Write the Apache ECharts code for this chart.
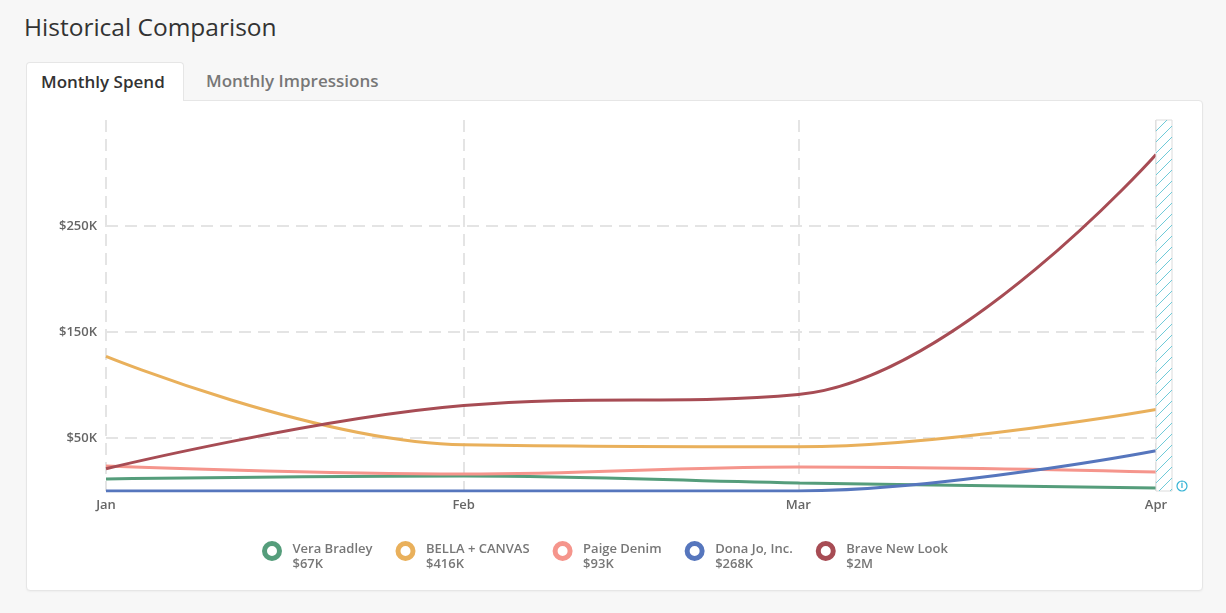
<!DOCTYPE html>
<html>
<head>
<meta charset="utf-8">
<script src="https://cdn.jsdelivr.net/npm/echarts@6/dist/echarts.min.js"></script>
<style>
  html, body { margin: 0; padding: 0; }
  body {
    width: 1226px; height: 613px; overflow: hidden; position: relative;
    background: #f7f7f7; font-family: 'Open Sans', sans-serif;
  }
  #title { position: absolute; left: 24px; top: 10px; font-size: 24.5px; color: #333; }
  .card {
    position: absolute; left: 26px; top: 100px; width: 1175px; height: 489px;
    background: #fff; border: 1px solid #e6e6e6; border-radius: 0 4px 4px 4px;
    box-shadow: 0 1px 2px rgba(0, 0, 0, 0.04);
  }
  .tab {
    position: absolute; top: 62px; height: 39px; line-height: 38px;
    font-size: 17px; font-weight: 600; box-sizing: border-box;
  }
  .tab.active {
    left: 26px; width: 158px; padding-left: 14px; background: #fff; color: #333;
    border: 1px solid #e6e6e6; border-bottom: none; border-radius: 4px 4px 0 0; z-index: 2;
  }
  .tab.other { left: 206px; color: #777; }
  #chart { position: absolute; left: 0; top: 0; width: 1226px; height: 613px; z-index: 3; }
</style>
</head>
<body>
<div id="title">Historical Comparison</div>
<div class="card"></div>
<div class="tab active">Monthly Spend</div>
<div class="tab other">Monthly Impressions</div>
<div id="chart"></div>
<script>
const months = ['2020-01-01', '2020-02-01', '2020-03-01', '2020-04-01']
const monthLabels = ['Jan', 'Feb', 'Mar', 'Apr']
const yTicks = [50000, 150000, 250000]
const brands = ['Vera Bradley', 'BELLA + CANVAS', 'Paige Denim', 'Dona Jo, Inc.', 'Brave New Look']
const totals = ['$67K', '$416K', '$93K', '$268K', '$2M']
const colors = ['#559d7b', '#e9b05b', '#f5958c', '#5676bd', '#a74c54']

const veraBradley = [11400, 14200, 7600, 2800]
const bellaCanvas = [127000, 43600, 41700, 76800]
const paigeDenim = [23700, 16000, 22700, 18000]
const donaJo = [0, 0, 0, 38000]
const braveNewLook = [21000, 80600, 91000, 317500]
const seriesValues = [veraBradley, bellaCanvas, paigeDenim, donaJo, braveNewLook]

const times = months.map(m => +echarts.time.parse(m))
const labelOf = {}
times.forEach((t, i) => { labelOf[t] = monthLabels[i] })

const gridColor = '#e4e4e4'
const chart = echarts.init(document.getElementById('chart'))

const option = {
  color: colors,
  animation: false,
  textStyle: { fontFamily: 'Open Sans' },
  grid: { left: 106, right: 70, top: 120, bottom: 122 },
  xAxis: {
    type: 'value',
    min: times[0],
    max: times[times.length - 1],
    axisLine: { show: false },
    axisTick: { show: false, customValues: times },
    axisLabel: {
      customValues: times,
      formatter: v => labelOf[v] || '',
      color: '#666', fontSize: 13, fontWeight: 600, margin: 8
    },
    splitLine: { show: true, lineStyle: { color: gridColor, width: 2, type: [12, 7] } }
  },
  yAxis: {
    type: 'value',
    min: 0,
    max: 350000,
    axisLine: { show: false },
    axisTick: { show: false, customValues: yTicks },
    axisLabel: {
      customValues: yTicks,
      formatter: v => '$' + (v / 1000) + 'K',
      color: '#666', fontSize: 13, fontWeight: 600, margin: 9
    },
    splitLine: { show: true, lineStyle: { color: gridColor, width: 2, type: [12, 7] } }
  },
  legend: {
    top: 530,
    left: 257,
    itemGap: 23,
    itemWidth: 15,
    itemHeight: 15,
    icon: 'circle',
    // spacer line on top so the ring sits beside the brand name
    formatter: name => '{s| }\n{n|' + name + '}\n{v|' + totals[brands.indexOf(name)] + '}',
    textStyle: {
      rich: {
        s: { fontSize: 2, lineHeight: 11 },
        n: { fontSize: 13, fontWeight: 600, color: '#777', lineHeight: 15, padding: [0, 0, 0, 8] },
        v: { fontSize: 13, fontWeight: 600, color: '#777', lineHeight: 15, padding: [0, 0, 0, 8] }
      }
    },
    data: brands.map((name, i) => ({
      name,
      itemStyle: { color: '#fff', borderColor: colors[i], borderWidth: 5 }
    }))
  },
  series: brands.map((name, i) => ({
    name,
    type: 'line',
    smooth: 0.4,
    symbol: 'none',
    lineStyle: { width: 3 },
    data: times.map((t, j) => [t, seriesValues[i][j]])
  }))
}

chart.setOption(option)

// hatched "incomplete month" strip to the right of the last month
const x0 = chart.convertToPixel({ xAxisIndex: 0 }, times[times.length - 1])
const x1 = x0 + 16
const y0 = chart.convertToPixel({ yAxisIndex: 0 }, 350000)
const y1 = chart.convertToPixel({ yAxisIndex: 0 }, 0)
const graphics = [{
  type: 'rect',
  z: 10,
  shape: { x: x0, y: y0, width: x1 - x0, height: y1 - y0 },
  style: { fill: '#fff', stroke: '#dcdcdc', lineWidth: 1 }
}]
for (let c = x0 + y0; c < x1 + y1 + 11; c += 11) {
  const sx = Math.max(x0, c - y1)
  const ex = Math.min(x1, c - y0)
  if (ex - sx < 1) continue
  graphics.push({
    type: 'line',
    z: 11,
    shape: { x1: sx, y1: c - sx, x2: ex, y2: c - ex },
    style: { stroke: '#6fcad8', lineWidth: 1 }
  })
}
graphics.push({
  type: 'circle',
  z: 10,
  shape: { cx: x0 + 26, cy: y1 - 5, r: 5 },
  style: { fill: '#fff', stroke: '#35b3d5', lineWidth: 1.2 }
}, {
  type: 'text',
  z: 11,
  x: x0 + 26,
  y: y1 - 5,
  style: { text: 'i', fill: '#35b3d5', font: 'bold 8px Open Sans', align: 'center', verticalAlign: 'middle' }
})

chart.setOption({ graphic: graphics })
</script>
</body>
</html>
